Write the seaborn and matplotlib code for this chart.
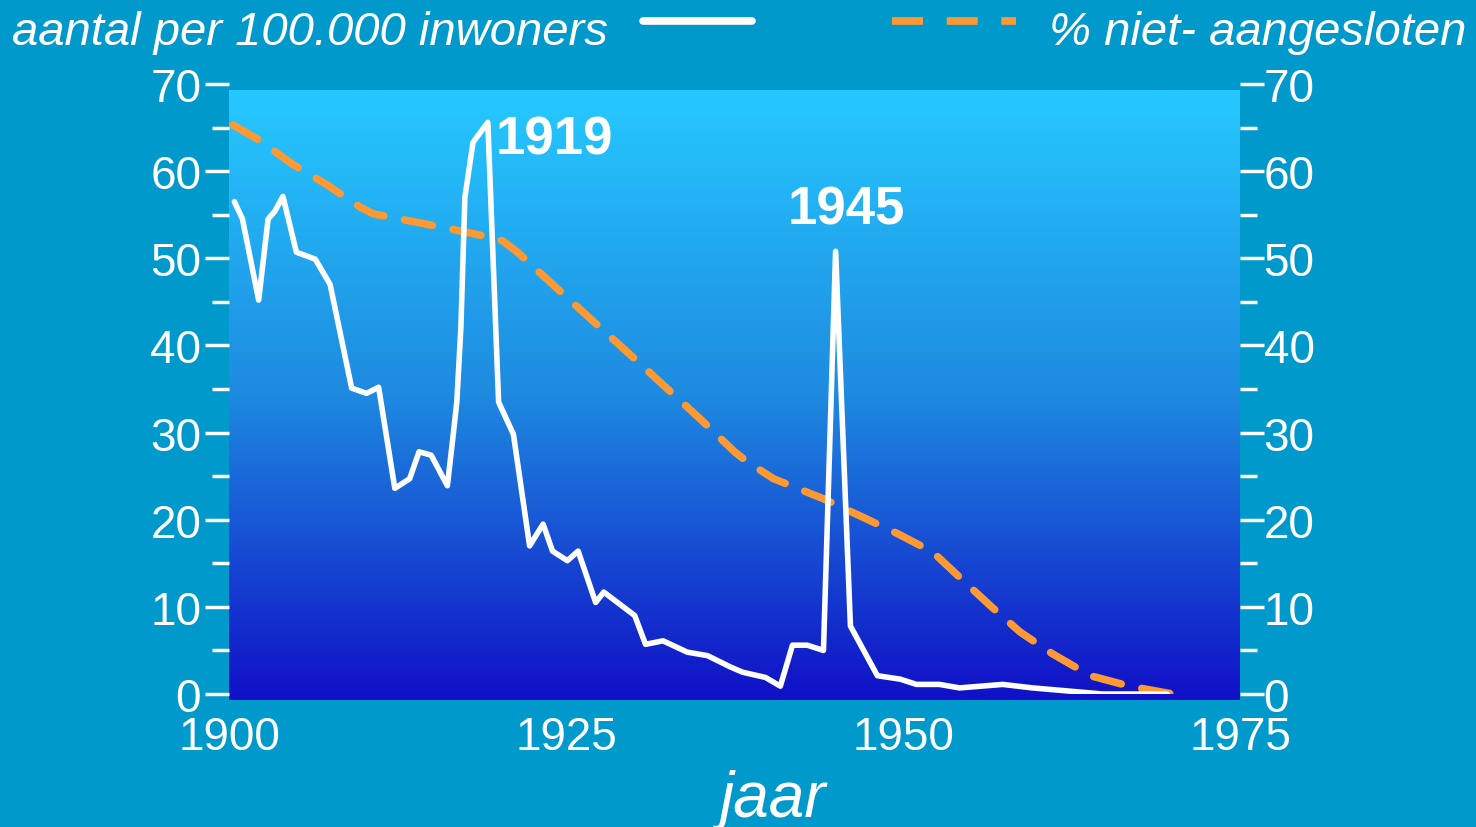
import numpy as np
import matplotlib
matplotlib.use("Agg")
import matplotlib.pyplot as plt
from matplotlib.colors import LinearSegmentedColormap
from matplotlib.lines import Line2D
from matplotlib.ticker import MultipleLocator
import seaborn as sns

# sterfte per 100.000 inwoners (witte lijn)
years_rate = [1900.4, 1901.0, 1902.2, 1902.9, 1903.4, 1904.0, 1905.0, 1906.4, 1907.5,
              1909.1, 1910.2, 1911.1, 1912.3, 1913.4, 1914.1, 1915.0, 1916.2, 1916.6,
              1916.9, 1917.2, 1917.5, 1918.1, 1919.2, 1920.0, 1921.1, 1922.3, 1923.3,
              1924.0, 1925.1, 1925.9, 1927.2, 1927.8, 1930.1, 1930.9, 1932.2, 1934.0,
              1935.5, 1937.2, 1938.1, 1939.8, 1940.9, 1941.8, 1942.9, 1944.1, 1945.0,
              1946.1, 1948.1, 1949.8, 1951.0, 1952.7, 1954.2, 1957.4, 1959.6, 1964.8,
              1969.6]
rate = [56.5, 54.5, 45.2, 54.5, 55.4, 57.1, 50.7, 49.9, 47.0,
        35.1, 34.5, 35.2, 23.6, 24.7, 27.8, 27.4, 23.9, 29.3,
        33.5, 42.0, 57.0, 63.3, 65.6, 33.5, 29.8, 17.0, 19.5,
        16.4, 15.3, 16.4, 10.5, 11.7, 9.0, 5.7, 6.1, 4.8,
        4.4, 3.1, 2.5, 1.9, 0.9, 5.6, 5.6, 5.0, 50.8,
        7.8, 2.1, 1.7, 1.1, 1.1, 0.7, 1.1, 0.7, 0.0,
        0.0]

# % niet-aangesloten (oranje stippellijn)
years_pct = [1900.3, 1902.3, 1904.7, 1907.3, 1909.7, 1910.7, 1912.7, 1915.7, 1918.8,
             1920.3, 1921.4, 1925.0, 1930.0, 1935.0, 1937.5, 1938.4, 1940.4, 1944.1,
             1947.0, 1949.6, 1952.2, 1954.2, 1956.5, 1958.7, 1961.1, 1963.9, 1966.8,
             1970.0]
pct = [65.3, 63.5, 60.8, 58.4, 55.9, 55.1, 54.5, 53.6, 52.6,
       52.0, 50.7, 45.6, 38.6, 31.5, 27.8, 26.7, 24.7, 22.4,
       20.3, 18.4, 16.3, 13.4, 10.1, 7.1, 4.6, 2.1, 0.9,
       0.0]

bg = "#0099CC"
orange = "#FF9933"

sns.set_style("white")
plt.rcParams["font.family"] = ["Liberation Sans", "DejaVu Sans"]

W, H = 1476, 828
fig = plt.figure(figsize=(W / 100, H / 100), dpi=100, facecolor=bg)
ax = fig.add_axes([229 / W, (H - 695) / H, 1011 / W, 610 / H])
ax.set_facecolor("none")

# gradient background of the plot area
grad_cmap = LinearSegmentedColormap.from_list(
    "grad", [(0.0, "#1010C6"), (0.5, "#1E8AE0"), (1.0, "#26C9FF")])
grad = np.linspace(0, 1, 256).reshape(-1, 1)
ax.imshow(grad, cmap=grad_cmap, origin="lower", aspect="auto",
          extent=[1900, 1975, -0.7, 69.2], zorder=0, clip_on=False)

sns.lineplot(x=years_pct, y=pct, ax=ax, color=orange, linewidth=5.4,
             linestyle=(0, (3.8, 2.8)), dash_capstyle="round", zorder=3)
sns.lineplot(x=years_rate, y=rate, ax=ax, color="white", linewidth=4.0,
             solid_joinstyle="round", zorder=4)

ax.set_xlim(1900, 1975)
ax.set_ylim(0, 70)
ax.set_xlabel("")
ax.set_ylabel("")

for s in ax.spines.values():
    s.set_visible(False)
ax.spines["bottom"].set_position(("data", -0.7))

ax.xaxis.set_major_locator(MultipleLocator(25))
ax.xaxis.set_minor_locator(MultipleLocator(5))
ax.yaxis.set_major_locator(MultipleLocator(10))
ax.yaxis.set_minor_locator(MultipleLocator(5))

ax.tick_params(axis="x", which="major", direction="inout", length=19, width=2.5,
               color="white", labelsize=33, labelcolor="white", pad=1)
ax.tick_params(axis="x", which="minor", direction="in", length=13, width=2.5,
               color="white")
ax.tick_params(axis="y", which="major", direction="out", length=17, width=2.5,
               color="white", labelsize=33, labelcolor="white", pad=3)
ax.tick_params(axis="y", which="minor", direction="out", length=12, width=2.5,
               color="white")

ax2 = ax.twinx()
ax2.set_ylim(0, 70)
for s in ax2.spines.values():
    s.set_visible(False)
ax2.yaxis.set_major_locator(MultipleLocator(10))
ax2.yaxis.set_minor_locator(MultipleLocator(5))
ax2.tick_params(axis="y", which="major", direction="out", length=17, width=2.5,
                color="white", labelsize=33, labelcolor="white", pad=0)
ax2.tick_params(axis="y", which="minor", direction="out", length=12, width=2.5,
                color="white")

# annotations of the peaks
ax.text(1919.8, 63.6, "1919", color="white", fontsize=38, fontweight="bold",
        ha="left", va="center", zorder=5)
ax.text(1945.8, 55.6, "1945", color="white", fontsize=38, fontweight="bold",
        ha="center", va="center", zorder=5)

# header legend
fig.text(12 / W, 1 - 33 / H, "aantal per 100.000 inwoners", color="white",
         fontsize=34, style="italic", ha="left", va="center")
fig.add_artist(Line2D([643 / W, 752 / W], [1 - 22 / H] * 2, color="white",
                      linewidth=5.5, transform=fig.transFigure))
fig.add_artist(Line2D([892 / W, 1016 / W], [1 - 22 / H] * 2, color=orange,
                      linewidth=5.5, linestyle=(0, (4.06, 3.1)),
                      dash_capstyle="butt", transform=fig.transFigure))
fig.text(1466 / W, 1 - 33 / H, "% niet- aangesloten", color="white",
         fontsize=34, style="italic", ha="right", va="center")

fig.text(772 / W, 1 - 800 / H, "jaar", color="white", fontsize=46,
         style="italic", ha="center", va="center")

fig.savefig("out.png", dpi=100, facecolor=bg)
